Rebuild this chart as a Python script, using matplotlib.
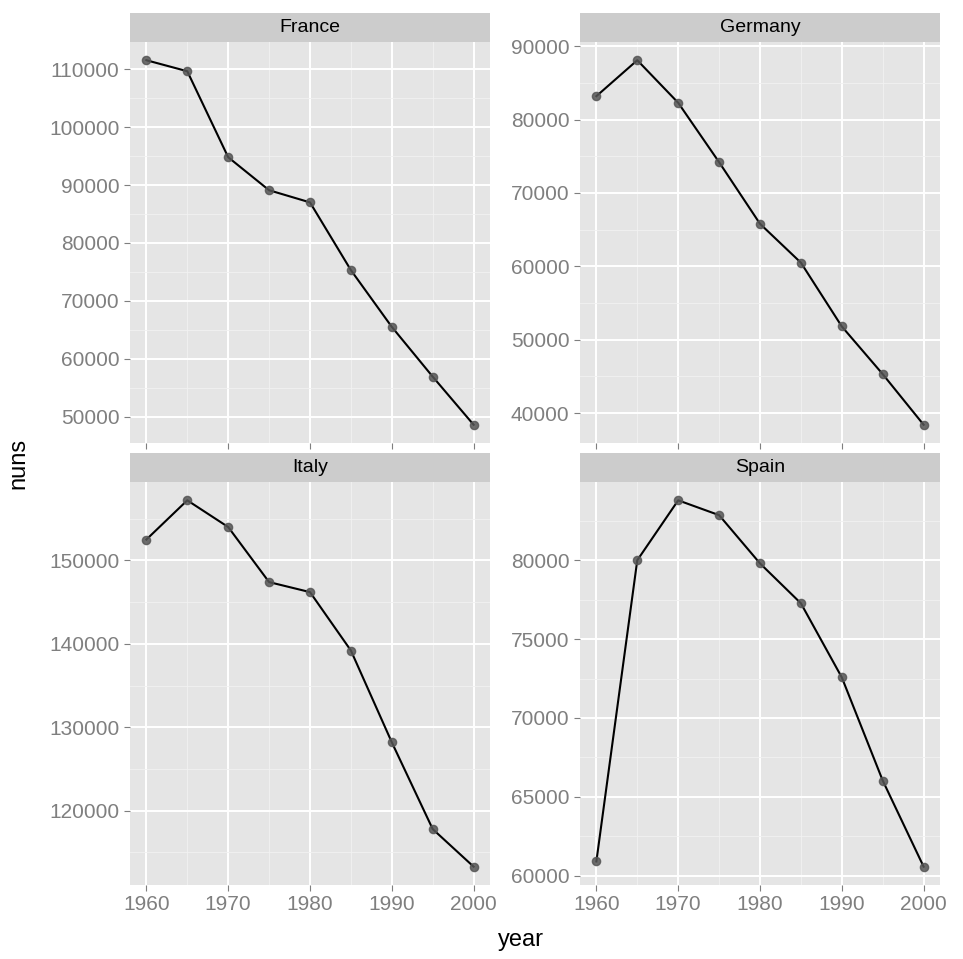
import numpy as np
import matplotlib
matplotlib.use("Agg")
import matplotlib.pyplot as plt
from matplotlib.ticker import MultipleLocator

plt.rcParams['font.family'] = ['Liberation Sans', 'DejaVu Sans']

years = [1960, 1965, 1970, 1975, 1980, 1985, 1990, 1995, 2000]
france = [111550, 109650, 94800, 89100, 87000, 75300, 65500, 56900, 48600]
germany = [83200, 88100, 82300, 74200, 65800, 60500, 51800, 45300, 38400]
italy = [152500, 157200, 154000, 147400, 146200, 139200, 128200, 117800, 113300]
spain = [60900, 80000, 83800, 82860, 79800, 77270, 72570, 66030, 60570]

W, H = 963, 959
fig = plt.figure(figsize=(W / 100, H / 100), dpi=100)

panels = [
    ("France", france, 10000, (130, 42, 490, 443)),
    ("Germany", germany, 10000, (580, 42, 940, 443)),
    ("Italy", italy, 10000, (130, 482, 490, 885)),
    ("Spain", spain, 5000, (580, 482, 940, 885)),
]

for name, vals, step, (x0, y0, x1, y1) in panels:
    ax = fig.add_axes([x0 / W, 1 - y1 / H, (x1 - x0) / W, (y1 - y0) / H])
    ax.set_facecolor("#E5E5E5")
    ax.plot(years, vals, color="black", lw=1.5, zorder=3)
    ax.scatter(years, vals, s=35, color="#555555", alpha=0.85, zorder=4)
    ax.margins(x=0.05, y=0.05)
    ax.xaxis.set_major_locator(MultipleLocator(10))
    ax.xaxis.set_minor_locator(MultipleLocator(5))
    ax.yaxis.set_major_locator(MultipleLocator(step))
    ax.yaxis.set_minor_locator(MultipleLocator(step / 2))
    ax.grid(which="major", color="white", lw=1.4)
    ax.grid(which="minor", color="#F2F2F2", lw=0.6)
    ax.set_axisbelow(True)
    for s in ax.spines.values():
        s.set_visible(False)
    ax.tick_params(which="both", colors="#7F7F7F", labelcolor="#7F7F7F", labelsize=15, length=4)
    ax.tick_params(which="minor", length=0)
    if y1 < 500:
        ax.tick_params(axis="x", labelbottom=False)
    # strip
    sax = fig.add_axes([x0 / W, 1 - (y0) / H, (x1 - x0) / W, 29 / H])
    sax.set_facecolor("#CCCCCC")
    sax.set_xticks([]); sax.set_yticks([])
    for s in sax.spines.values():
        s.set_visible(False)
    sax.text(0.5, 0.5, name, ha="center", va="center", fontsize=14, transform=sax.transAxes)

fig.text(521 / W, 1 - 940 / H, "year", ha="center", va="center", fontsize=17)
fig.text(18 / W, 1 - 463 / H, "nuns", ha="center", va="center", fontsize=17, rotation=90)

fig.savefig("out.png", dpi=100)
